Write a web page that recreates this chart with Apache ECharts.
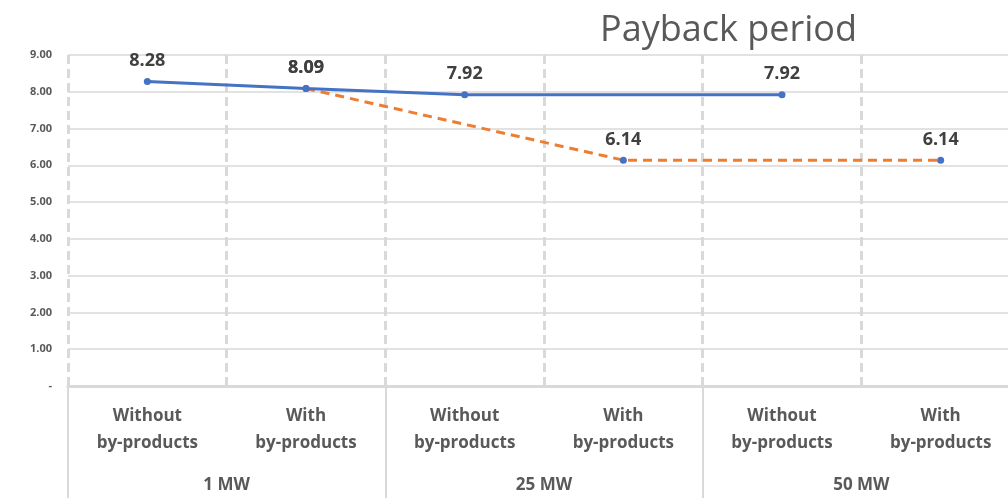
<!DOCTYPE html>
<html>
<head>
<meta charset="utf-8">
<script src="https://cdn.jsdelivr.net/npm/echarts@6/dist/echarts.min.js"></script>
<style>
  html, body { margin: 0; padding: 0; background: #fff; }
  #chart { width: 1008px; height: 498px; }
</style>
</head>
<body>
<div id="chart"></div>
<script>
// Scenario categories (inner level) and plant sizes (outer level)
const categories = [
  'Without\nby-products', 'With\nby-products',
  'Without\nby-products', 'With\nby-products',
  'Without\nby-products', 'With\nby-products'
];
const groups = ['1 MW', '25 MW', '50 MW'];

// Payback period in years
const baseCase = [8.28, 8.09, 7.92, null, 7.92, null];
const byProductCase = [null, 8.09, null, 6.14, null, 6.14];

const yTicks = { min: 0, max: 9, interval: 1 };

const grey = '#595959';
const gridGrey = '#d9d9d9';
const fontFamily = '"Open Sans", Lato, sans-serif';

const chart = echarts.init(document.getElementById('chart'));

const labelStyle = {
  show: true,
  position: 'top',
  distance: 8,
  fontFamily,
  fontWeight: 'bold',
  fontSize: 18,
  color: '#404040',
  formatter: p => p.value == null ? '' : p.value.toFixed(2)
};

chart.setOption({
  animation: false,
  backgroundColor: '#fff',
  title: {
    text: 'Payback period',
    left: 595,
    top: 8,
    textStyle: { fontFamily, fontWeight: 'normal', fontSize: 36, color: grey }
  },
  // the sixth category runs past the right edge of the canvas
  grid: {
    left: 68, right: -12, top: 55, bottom: 112,
    containLabel: false, outerBoundsMode: 'none'
  },
  xAxis: [
    {
      type: 'category',
      data: categories,
      boundaryGap: true,
      axisLine: { show: false },
      axisTick: { show: false },
      axisLabel: {
        interval: 0,
        margin: 17,
        fontFamily,
        fontWeight: 'bold',
        fontSize: 17,
        lineHeight: 27,
        color: grey
      },
      splitLine: {
        show: true,
        interval: 0,
        lineStyle: { color: gridGrey, width: 3, type: [9, 5] }
      }
    },
    {
      type: 'category',
      data: groups,
      position: 'bottom',
      boundaryGap: true,
      axisLine: { show: true, lineStyle: { color: gridGrey, width: 3 } },
      axisTick: {
        show: true,
        interval: 0,
        length: 115,
        lineStyle: { color: gridGrey, width: 2 }
      },
      axisLabel: {
        interval: 0,
        margin: 91,
        fontFamily,
        fontWeight: 'bold',
        fontSize: 17,
        color: grey
      },
      splitLine: { show: false }
    }
  ],
  yAxis: {
    type: 'value',
    min: yTicks.min,
    max: yTicks.max,
    interval: yTicks.interval,
    axisLine: { show: false },
    axisTick: { show: false },
    axisLabel: {
      margin: 16,
      fontFamily,
      fontWeight: 'bold',
      fontSize: 11,
      color: grey,
      formatter: v => v === 0 ? '-' : v.toFixed(2)
    },
    splitLine: { lineStyle: { color: gridGrey, width: 1.5 } }
  },
  series: [
    {
      name: 'By-products',
      type: 'line',
      xAxisIndex: 0,
      data: byProductCase,
      connectNulls: true,
      symbol: 'circle',
      symbolSize: 7,
      lineStyle: { color: '#ed7d31', width: 3, type: [9, 6] },
      itemStyle: { color: '#4472c4' },
      label: labelStyle,
      z: 2
    },
    {
      name: 'Base',
      type: 'line',
      xAxisIndex: 0,
      data: baseCase,
      connectNulls: true,
      symbol: 'circle',
      symbolSize: 7,
      lineStyle: { color: '#4472c4', width: 3 },
      itemStyle: { color: '#4472c4' },
      label: labelStyle,
      z: 3
    }
  ]
});
</script>
</body>
</html>
